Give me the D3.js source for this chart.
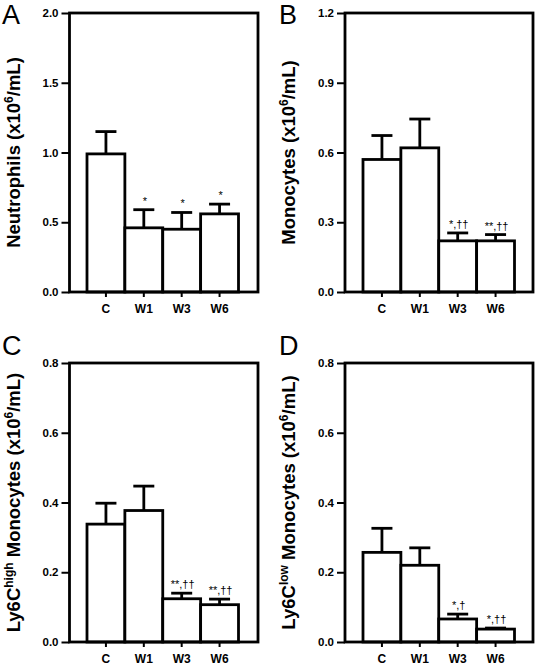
<!DOCTYPE html>
<html>
<head>
<meta charset="utf-8">
<script src="https://cdn.jsdelivr.net/npm/d3@7"></script>
<style>
  html, body { margin: 0; padding: 0; background: #fff; }
  svg { display: block; }
</style>
</head>
<body>
<svg id="chart" width="535" height="667"></svg>
<script>
// ---------- data ----------
const categories = ["C", "W1", "W3", "W6"];

const neutrophilMean = [0.99, 0.46, 0.45, 0.56];
const neutrophilErr  = [1.15, 0.59, 0.57, 0.63];
const neutrophilSig  = ["", "*", "*", "*"];
const neutrophilTicks = [0.0, 0.5, 1.0, 1.5, 2.0];

const monocyteMean = [0.57, 0.62, 0.22, 0.22];
const monocyteErr  = [0.673, 0.744, 0.254, 0.247];
const monocyteSig  = ["", "", "*,††", "**,††"];
const monocyteTicks = [0.0, 0.3, 0.6, 0.9, 1.2];

const highMean = [0.338, 0.377, 0.124, 0.107];
const highErr  = [0.398, 0.447, 0.140, 0.123];
const highSig  = ["", "", "**,††", "**,††"];
const highTicks = [0.0, 0.2, 0.4, 0.6, 0.8];

const lowMean = [0.257, 0.220, 0.066, 0.037];
const lowErr  = [0.326, 0.270, 0.080, 0.040];
const lowSig  = ["", "", "*,†", "*,††"];
const lowTicks = [0.0, 0.2, 0.4, 0.6, 0.8];

// ---------- drawing ----------
const svg = d3.select("#chart");
const FONT = "'Liberation Sans', Arial, Helvetica, sans-serif";

const panels = [
  { letter: "A", mean: neutrophilMean, err: neutrophilErr, sig: neutrophilSig, ticks: neutrophilTicks,
    title: [{t: "Neutrophils (x10"}, {t: "6", sup: true}, {t: "/mL)"}],
    frame: {x0: 69.5, x1: 258, y0: 13, y1: 292}, bars: [87, 238.5], letterPos: [2, 24] },
  { letter: "B", mean: monocyteMean, err: monocyteErr, sig: monocyteSig, ticks: monocyteTicks,
    title: [{t: "Monocytes (x10"}, {t: "6", sup: true}, {t: "/mL)"}],
    frame: {x0: 345, x1: 533, y0: 13, y1: 292}, bars: [363, 514.5], letterPos: [279, 24] },
  { letter: "C", mean: highMean, err: highErr, sig: highSig, ticks: highTicks,
    title: [{t: "Ly6C"}, {t: "high", sup: true}, {t: " Monocytes (x10"}, {t: "6", sup: true}, {t: "/mL)"}],
    frame: {x0: 69.5, x1: 258, y0: 363, y1: 642}, bars: [87, 238.5], letterPos: [2, 355] },
  { letter: "D", mean: lowMean, err: lowErr, sig: lowSig, ticks: lowTicks,
    title: [{t: "Ly6C"}, {t: "low", sup: true}, {t: " Monocytes (x10"}, {t: "6", sup: true}, {t: "/mL)"}],
    frame: {x0: 345, x1: 533, y0: 363, y1: 642}, bars: [363, 514.5], letterPos: [279, 355] }
];

panels.forEach(p => {
  const f = p.frame;
  const g = svg.append("g");
  const yMax = p.ticks[p.ticks.length - 1];
  const y = d3.scaleLinear().domain([0, yMax]).range([f.y1, f.y0]);
  const x = d3.scaleBand().domain(categories).range(p.bars).paddingInner(0).paddingOuter(0);
  const SW = 2.8;

  // bars
  g.selectAll("rect.bar").data(categories).enter().append("rect")
    .attr("x", d => x(d))
    .attr("width", x.bandwidth())
    .attr("y", (d, i) => y(p.mean[i]))
    .attr("height", (d, i) => f.y1 - y(p.mean[i]))
    .attr("fill", "#fff").attr("stroke", "#000").attr("stroke-width", SW);

  // error bars (upper only)
  const capW = 21;
  categories.forEach((c, i) => {
    const cx = x(c) + x.bandwidth() / 2;
    g.append("line").attr("x1", cx).attr("x2", cx)
      .attr("y1", y(p.mean[i])).attr("y2", y(p.err[i]))
      .attr("stroke", "#000").attr("stroke-width", SW);
    g.append("line").attr("x1", cx - capW / 2).attr("x2", cx + capW / 2)
      .attr("y1", y(p.err[i])).attr("y2", y(p.err[i]))
      .attr("stroke", "#000").attr("stroke-width", SW);
    if (p.sig[i]) {
      g.append("text").attr("x", cx + 1).attr("y", y(p.err[i]) - 5)
        .attr("text-anchor", "middle")
        .attr("font-family", FONT).attr("font-size", 11)
        .attr("fill", "#000")
        .text(p.sig[i]);
    }
  });

  // frame
  g.append("rect").attr("x", f.x0).attr("y", f.y0)
    .attr("width", f.x1 - f.x0).attr("height", f.y1 - f.y0)
    .attr("fill", "none").attr("stroke", "#000").attr("stroke-width", SW);

  // y axis
  const yAxis = d3.axisLeft(y).tickValues(p.ticks).tickSize(8).tickPadding(3)
    .tickFormat(d3.format(".1f"));
  const ya = g.append("g").attr("transform", `translate(${f.x0},0)`).call(yAxis);
  ya.select(".domain").remove();
  ya.selectAll(".tick line").attr("stroke-width", 2);
  ya.selectAll(".tick text").attr("font-family", FONT).attr("font-size", 11.5)
    .attr("font-weight", "bold").attr("fill", "#000");

  // x axis
  const xAxis = d3.axisBottom(x).tickSize(5).tickPadding(7);
  const xa = g.append("g").attr("transform", `translate(0,${f.y1})`).call(xAxis);
  xa.select(".domain").remove();
  xa.selectAll(".tick line").attr("stroke-width", 2);
  xa.selectAll(".tick text").attr("font-family", FONT).attr("font-size", 12)
    .attr("font-weight", "bold").attr("fill", "#000");

  // y title
  const tx = f.x0 - 50, ty = (f.y0 + f.y1) / 2;
  const title = g.append("text")
    .attr("transform", `translate(${tx},${ty}) rotate(-90)`)
    .attr("text-anchor", "middle")
    .attr("font-family", FONT).attr("font-size", 18.5).attr("font-weight", "bold")
    .attr("fill", "#000");
  p.title.forEach((seg, k) => {
    const ts = title.append("tspan").text(seg.t);
    if (seg.sup) {
      ts.attr("font-size", 12).attr("dy", -7);
    } else if (k > 0 && p.title[k - 1].sup) {
      ts.attr("dy", 7);
    }
  });

  // panel letter
  g.append("text").attr("x", p.letterPos[0]).attr("y", p.letterPos[1])
    .attr("font-family", FONT).attr("font-size", 27)
    .attr("fill", "#000").text(p.letter);
});
</script>
</body>
</html>
